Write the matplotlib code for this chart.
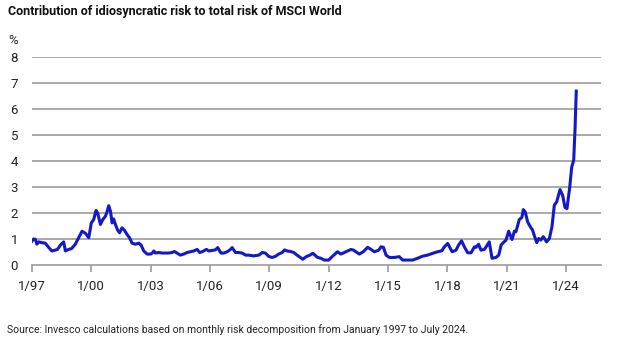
import matplotlib
matplotlib.use("Agg")
import matplotlib.pyplot as plt
from matplotlib import font_manager

# Decimal-year positions and values (%)
years = [1997.0, 1997.08, 1997.17, 1997.25, 1997.34, 1997.5, 1997.67, 1997.85, 1998.0, 1998.17,
         1998.29, 1998.43, 1998.6, 1998.69, 1998.85, 1999.0, 1999.19, 1999.36, 1999.53, 1999.7,
         1999.87, 2000.0, 2000.12, 2000.24, 2000.32, 2000.46, 2000.58, 2000.71, 2000.8, 2000.88,
         2000.97, 2001.05, 2001.13, 2001.22, 2001.33, 2001.43, 2001.55, 2001.67, 2001.8, 2001.93,
         2002.06, 2002.23, 2002.4, 2002.52, 2002.65, 2002.82, 2003.0, 2003.08, 2003.16, 2003.24,
         2003.41, 2003.58, 2003.75, 2003.91, 2004.08, 2004.2, 2004.33, 2004.5, 2004.67, 2004.84,
         2005.01, 2005.18, 2005.35, 2005.48, 2005.6, 2005.82, 2005.94, 2006.1, 2006.27, 2006.39,
         2006.55, 2006.7, 2006.87, 2007.04, 2007.12, 2007.29, 2007.45, 2007.62, 2007.8, 2007.96,
         2008.2, 2008.47, 2008.64, 2008.8, 2008.97, 2009.14, 2009.3, 2009.47, 2009.65, 2009.77,
         2009.9, 2010.07, 2010.24, 2010.4, 2010.57, 2010.69, 2010.86, 2011.05, 2011.2, 2011.44,
         2011.6, 2011.78, 2012.0, 2012.2, 2012.45, 2012.62, 2012.88, 2013.13, 2013.26, 2013.55,
         2013.75, 2013.97, 2014.14, 2014.31, 2014.53, 2014.65, 2014.77, 2014.9, 2015.07, 2015.32,
         2015.57, 2015.74, 2016.0, 2016.25, 2016.5, 2016.75, 2017.0, 2017.26, 2017.51, 2017.73,
         2017.85, 2018.02, 2018.24, 2018.44, 2018.57, 2018.72, 2018.86, 2019.03, 2019.2, 2019.37,
         2019.45, 2019.58, 2019.7, 2019.87, 2019.99, 2020.12, 2020.26, 2020.46, 2020.6, 2020.72,
         2020.83, 2020.97, 2021.1, 2021.27, 2021.39, 2021.47, 2021.64, 2021.77, 2021.84, 2021.94,
         2022.06, 2022.18, 2022.31, 2022.39, 2022.52, 2022.62, 2022.73, 2022.85, 2023.02, 2023.16,
         2023.29, 2023.41, 2023.53, 2023.7, 2023.83, 2023.95, 2024.05, 2024.19, 2024.29, 2024.39,
         2024.46, 2024.52]
values = [0.92, 1.0, 0.99, 0.8, 0.89, 0.86, 0.84, 0.67, 0.54, 0.57,
          0.6, 0.76, 0.89, 0.54, 0.6, 0.63, 0.8, 1.05, 1.3, 1.22,
          1.05, 1.62, 1.75, 2.1, 2.0, 1.56, 1.75, 1.87, 2.06, 2.28,
          2.06, 1.62, 1.77, 1.56, 1.34, 1.24, 1.43, 1.34, 1.18, 1.05,
          0.84, 0.8, 0.84, 0.76, 0.54, 0.42, 0.42, 0.46, 0.54, 0.46,
          0.48, 0.46, 0.46, 0.46, 0.48, 0.52, 0.46, 0.38, 0.42, 0.48,
          0.51, 0.54, 0.6, 0.48, 0.51, 0.6, 0.54, 0.56, 0.58, 0.67,
          0.46, 0.46, 0.51, 0.6, 0.67, 0.48, 0.48, 0.46, 0.38, 0.38,
          0.35, 0.38, 0.48, 0.46, 0.33, 0.29, 0.33, 0.42, 0.48, 0.58,
          0.54, 0.52, 0.48, 0.38, 0.29, 0.22, 0.32, 0.38, 0.45, 0.29,
          0.26, 0.19, 0.19, 0.34, 0.51, 0.42, 0.51, 0.6, 0.57, 0.42,
          0.51, 0.68, 0.6, 0.51, 0.57, 0.7, 0.68, 0.38, 0.29, 0.29,
          0.32, 0.19, 0.19, 0.19, 0.26, 0.34, 0.38, 0.45, 0.51, 0.55,
          0.7, 0.83, 0.51, 0.57, 0.77, 0.93, 0.7, 0.47, 0.47, 0.7,
          0.68, 0.8, 0.57, 0.6, 0.73, 0.89, 0.26, 0.29, 0.38, 0.77,
          0.86, 0.96, 1.3, 0.98, 1.3, 1.28, 1.75, 1.83, 2.13, 2.04,
          1.66, 1.49, 1.34, 1.15, 0.86, 1.02, 0.96, 1.09, 0.89, 1.02,
          1.47, 2.3, 2.43, 2.9, 2.68, 2.21, 2.17, 3.0, 3.77, 4.03,
          5.3, 6.69]

tick_years = [1997, 2000, 2003, 2006, 2009, 2012, 2015, 2018, 2021, 2024]
tick_labels = ["1/97", "1/00", "1/03", "1/06", "1/09", "1/12", "1/15", "1/18", "1/21", "1/24"]
y_ticks = [0, 1, 2, 3, 4, 5, 6, 7, 8]

title = "Contribution of idiosyncratic risk to total risk of MSCI World"
source = "Source: Invesco calculations based on monthly risk decomposition from January 1997 to July 2024."

plt.rcParams['font.family'] = ['Roboto', 'DejaVu Sans']

names = {f.name for f in font_manager.fontManager.ttflist}
narrow = 'Liberation Sans Narrow' if 'Liberation Sans Narrow' in names else None

W, H = 632, 352
fig = plt.figure(figsize=(W / 100, H / 100), dpi=100)
ax = fig.add_axes([32 / W, (H - 265) / H, (601 - 32) / W, (265 - 57) / H])

grid_col = "#9b9b9b"
for yv in y_ticks[1:]:
    ax.axhline(yv, color=grid_col, lw=1.2, zorder=1)

ax.plot(years, values, color="#1419c8", lw=2.2, zorder=3, solid_joinstyle="round")

ax.set_xlim(1997.0, 2025.77)
ax.set_ylim(0, 8)
ax.set_yticks(y_ticks)
ax.set_yticklabels([str(v) for v in y_ticks], fontsize=9.5, color="#222222")
ax.set_xticks(tick_years)
ax.set_xticklabels(tick_labels, fontsize=9.5, color="#222222")

for s in ["top", "right", "left"]:
    ax.spines[s].set_visible(False)
ax.spines["bottom"].set_color(grid_col)
ax.spines["bottom"].set_linewidth(1.2)
ax.tick_params(axis="y", length=0, pad=10)
ax.tick_params(axis="x", length=5, width=1.2, color=grid_col, pad=6, direction="out")

if narrow:
    fig.text(8 / W, 1 - 11 / H, title, fontsize=11.5, fontweight="bold", va="center", ha="left",
             color="#111111", family=[narrow, 'DejaVu Sans'])
    fig.text(7 / W, 1 - 330 / H, source, fontsize=10, va="center", ha="left", color="#222222",
             family=[narrow, 'DejaVu Sans'])
else:
    fig.text(8 / W, 1 - 11 / H, title, fontsize=9, fontweight="bold", va="center", ha="left", color="#111111")
    fig.text(7 / W, 1 - 330 / H, source, fontsize=7.5, va="center", ha="left", color="#222222")
fig.text(8 / W, 1 - 40 / H, "%", fontsize=9.5, va="center", ha="left", color="#222222")

fig.savefig("out.png", dpi=100)
